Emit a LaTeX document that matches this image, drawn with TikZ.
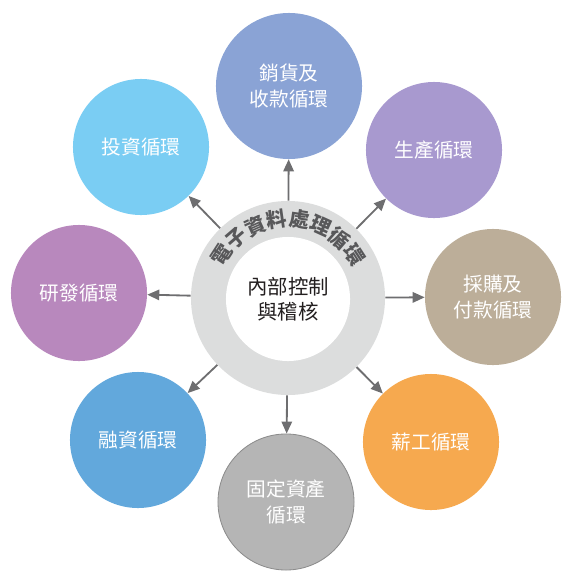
\documentclass[tikz,border=0pt]{standalone}
\usepackage{fontspec}
\setmainfont{Noto Sans CJK TC}
\usetikzlibrary{arrows.meta,calc}
\definecolor{cycSales}{RGB}{138, 163, 213}
\definecolor{cycProd}{RGB}{168, 153, 207}
\definecolor{cycPurchase}{RGB}{188, 174, 153}
\definecolor{cycPayroll}{RGB}{246, 169, 79}
\definecolor{cycFixed}{RGB}{181, 181, 181}
\definecolor{cycFixedEdge}{RGB}{140, 140, 140}
\definecolor{cycFinance}{RGB}{98, 168, 220}
\definecolor{cycRnd}{RGB}{184, 136, 189}
\definecolor{cycInvest}{RGB}{122, 205, 243}
\definecolor{ringGray}{RGB}{220, 221, 221}
\definecolor{arrowGray}{RGB}{110, 110, 112}
\definecolor{arcText}{RGB}{88, 88, 90}
\definecolor{coreText}{RGB}{35, 31, 32}

\begin{document}
\begin{tikzpicture}[
  x=0.025cm, y=-0.025cm,
  cycnode/.style={
    circle,
    minimum size=3.4cm,
    inner sep=0pt,
    align=center,
    text=white,
    font=\fontsize{14}{18}\selectfont
  },
  arrow/.style={-{Triangle[length=3mm,width=2.6mm]},line width=1.3pt,arrowGray}
]
  \useasboundingbox (0,0) rectangle (586,579);
  % central ring
  \node[circle,fill=ringGray,minimum size=4.85cm,inner sep=0pt] (ring) at (288,298) {};
  \node[circle,fill=white,minimum size=3.1cm,inner sep=0pt,align=center,text=coreText,
        font=\fontsize{14.5}{18}\selectfont] (core) at (288,299) {內部控制\\與稽核};
  \foreach \ch [count=\i from 0] in {電,子,資,料,處,理,循,環}
    \node[text=arcText,font=\fontsize{14.5}{15}\selectfont\bfseries,inner sep=0pt,
          rotate=147-\i*16.3-90] (arc\i) at ($(288,298)+(147-\i*16.3:1.98cm)$) {\ch};
  % outer cycles
  \node[cycnode,fill=cycSales,minimum size=3.65cm] (sales) at (289,86) {銷貨及\\收款循環};
  \node[cycnode,fill=cycProd] (prod) at (434,150) {生產循環};
  \node[cycnode,fill=cycPurchase] (purchase) at (493,297) {採購及\\付款循環};
  \node[cycnode,fill=cycPayroll] (payroll) at (431,442) {薪工循環};
  \node[cycnode,fill=cycFixed,draw=cycFixedEdge,line width=0.6pt] (fixed) at (286,502) {固定資產\\循環};
  \node[cycnode,fill=cycFinance] (finance) at (138,440) {融資循環};
  \node[cycnode,fill=cycRnd] (rnd) at (79,293) {研發循環};
  \node[cycnode,fill=cycInvest] (invest) at (141,147) {投資循環};
  \foreach \n in {sales,prod,purchase,payroll,fixed,finance,rnd,invest}
    \draw[arrow] (ring) -- (\n);
\end{tikzpicture}
\end{document}
